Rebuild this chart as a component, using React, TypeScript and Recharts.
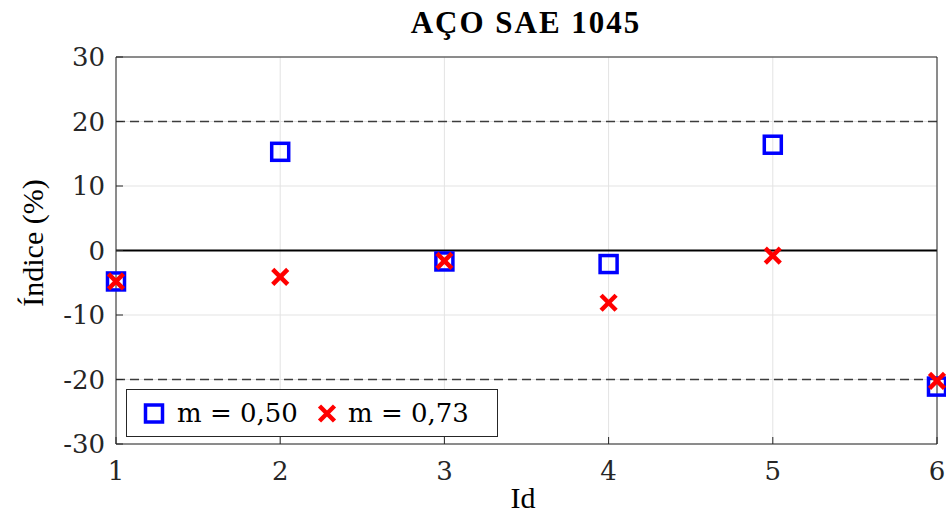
import React from 'react';
import { ScatterChart, Scatter, XAxis, YAxis, CartesianGrid, ReferenceLine, Legend } from 'recharts';

const ids = [1, 2, 3, 4, 5, 6];
const m050 = [-4.8, 15.3, -1.7, -2.1, 16.4, -21.1];
const m073 = [-4.8, -4.1, -1.6, -8.1, -0.8, -20.2];
const xTicks = [1, 2, 3, 4, 5, 6];
const yTicks = [-30, -20, -10, 0, 10, 20, 30];
const seriesNames = ['m = 0,50', 'm = 0,73'];
const limitLines = [20, -20];
const title = 'AÇO SAE 1045';
const xLabel = 'Id';
const yLabel = 'Índice (%)';

const dataA = ids.map((id, i) => ({ id, v: m050[i] }));
const dataB = ids.map((id, i) => ({ id, v: m073[i] }));

const AX = '#262626';
const tickFont = { fontFamily: 'DejaVu Serif', fontSize: 26, fill: AX };

const Square = (p: any) => {
  const { cx, cy } = p;
  if (cx == null || cy == null) return null;
  return <rect x={cx - 8.5} y={cy - 8.5} width={17} height={17} fill="none" stroke="#0000ff" strokeWidth={3.5} />;
};

const Cross = (p: any) => {
  const { cx, cy } = p;
  if (cx == null || cy == null) return null;
  const d = 7.5;
  return (
    <g stroke="#ff0000" strokeWidth={4.5}>
      <line x1={cx - d} y1={cy - d} x2={cx + d} y2={cy + d} />
      <line x1={cx - d} y1={cy + d} x2={cx + d} y2={cy - d} />
    </g>
  );
};

const LegendBox = () => (
  <svg width={372} height={48} style={{ display: 'block' }}>
    <rect x={0.5} y={0.5} width={371} height={47} fill="#fff" stroke={AX} strokeWidth={1} />
    <rect x={28 - 8.5} y={24.5 - 8.5} width={17} height={17} fill="none" stroke="#0000ff" strokeWidth={3.5} />
    <text x={51} y={33} fontFamily="DejaVu Serif" fontSize={26} fill="#000">{seriesNames[0]}</text>
    <g stroke="#ff0000" strokeWidth={4.5}>
      <line x1={201 - 7.5} y1={24.5 - 7.5} x2={201 + 7.5} y2={24.5 + 7.5} />
      <line x1={201 - 7.5} y1={24.5 + 7.5} x2={201 + 7.5} y2={24.5 - 7.5} />
    </g>
    <text x={222} y={33} fontFamily="DejaVu Serif" fontSize={26} fill="#000">{seriesNames[1]}</text>
  </svg>
);

export default function App() {
  return (
    <div style={{ position: 'absolute', left: 0, top: 0, width: 946, height: 514, background: '#fff' }}>
      <ScatterChart width={946} height={514} margin={{ top: 0, right: 0, bottom: 0, left: 0 }}>
        <CartesianGrid xAxisId="b" yAxisId="l" stroke="#e3e3e3" strokeWidth={1} />
        <XAxis
          xAxisId="b"
          dataKey="id"
          type="number"
          domain={[1, 6]}
          ticks={xTicks}
          orientation="bottom"
          height={70}
          tickSize={-7}
          tickMargin={25}
          stroke={AX}
          tick={tickFont}
          interval={0}
        />
        <XAxis
          xAxisId="t"
          dataKey="id"
          type="number"
          domain={[1, 6]}
          ticks={xTicks}
          orientation="top"
          height={57}
          tickSize={-7}
          stroke={AX}
          tickFormatter={() => ''}
          interval={0}
        />
        <YAxis
          yAxisId="l"
          dataKey="v"
          type="number"
          domain={[-30, 30]}
          ticks={yTicks}
          width={116}
          tickSize={-7}
          tickMargin={18}
          stroke={AX}
          tick={tickFont}
          interval={0}
        />
        <YAxis
          yAxisId="r"
          dataKey="v"
          type="number"
          domain={[-30, 30]}
          ticks={yTicks}
          orientation="right"
          width={9}
          tickSize={-7}
          stroke={AX}
          tickFormatter={() => ''}
          interval={0}
        />
        {limitLines.map((y) => (
          <ReferenceLine key={y} xAxisId="b" yAxisId="l" y={y} stroke="#3c3c3c" strokeWidth={1.5} strokeDasharray="9 5" />
        ))}
        <ReferenceLine xAxisId="b" yAxisId="l" y={0} stroke="#000" strokeWidth={2} />
        <Scatter name={seriesNames[0]} data={dataA} xAxisId="b" yAxisId="l" shape={<Square />} isAnimationActive={false} />
        <Scatter name={seriesNames[1]} data={dataB} xAxisId="b" yAxisId="l" shape={<Cross />} isAnimationActive={false} />
        <Legend
          layout="horizontal"
          verticalAlign="middle"
          align="center"
          content={<LegendBox />}
          wrapperStyle={{ position: 'absolute', left: 126, top: 389, width: 372, height: 48, margin: 0, padding: 0 }}
        />
      </ScatterChart>
      <svg width={946} height={514} style={{ position: 'absolute', left: 0, top: 0, pointerEvents: 'none' }}>
        <text x={526} y={32.5} textAnchor="middle" fontFamily="Liberation Serif" fontWeight="bold" fontSize={31} letterSpacing={2} fill="#000">{title}</text>
        <text x={523} y={508} textAnchor="middle" fontFamily="Liberation Serif" fontSize={30} fill="#000">{xLabel}</text>
        <text x={43} y={243} textAnchor="middle" transform="rotate(-90 43 243)" fontFamily="Liberation Serif" fontSize={30} fill="#000">{yLabel}</text>
      </svg>
    </div>
  );
}
